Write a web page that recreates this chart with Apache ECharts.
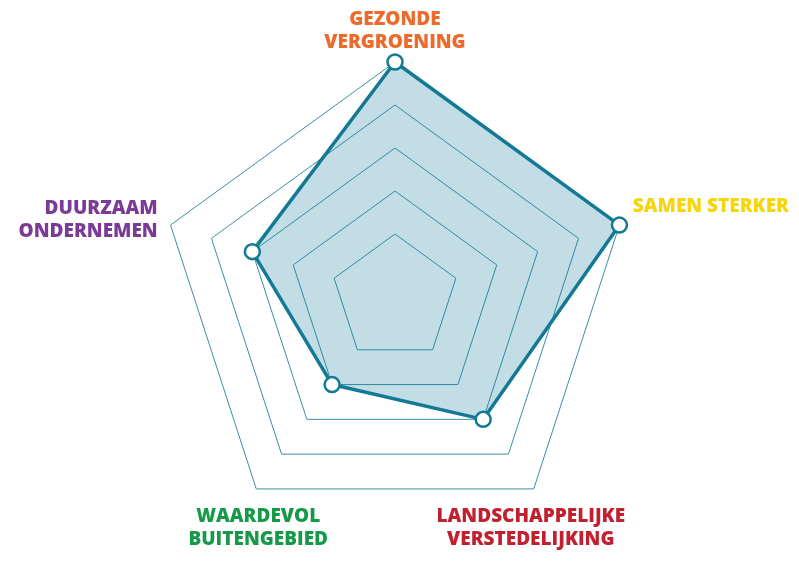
<!DOCTYPE html>
<html>
<head>
<meta charset="utf-8">
<script src="https://cdn.jsdelivr.net/npm/echarts@6/dist/echarts.min.js"></script>
<style>
html,body{margin:0;padding:0;background:#fff;}
#abc{width:799px;height:564px;}
</style>
</head>
<body>
<div id="abc"></div>
<script>
var names = ['GEZONDE\nVERGROENING', 'DUURZAAM\nONDERNEMEN', 'WAARDEVOL\nBUITENGEBIED', 'LANDSCHAPPELIJKE\nVERSTEDELIJKING', 'SAMEN STERKER'];
var nameKeys = ['gz', 'dz', 'wd', 'ls', 'ss'];
var nameColors = ['#EE6A2B', '#7B3A96', '#17994A', '#C1202F', '#F5D60E'];
var scores = [5, 3, 2, 3, 5];
var scaleMin = 1;
var scaleMax = 5;

var indicator = [];
for(var i = 0 ; i < names.length ; i++){
	indicator.push({name: names[i], min: scaleMin, max: scaleMax});
}

// label nudges (padding: top, right, bottom, left)
var rich = {
	gz : { padding : [0, 0, 38, 0], align : 'center' },
	ss : { padding : [0, 0, 30, 160], align : 'center' },
	dz : { padding : [0, 142, 2, 0], align : 'right' },
	wd : { padding : [59, 0, 0, 18], align : 'center' },
	ls : { padding : [59, 20, 0, 0], align : 'center' }
};
for(var i = 0 ; i < nameKeys.length ; i++){
	var r = rich[nameKeys[i]];
	r.color = nameColors[i];
	r.fontFamily = 'Open Sans';
	r.fontWeight = 800;
	r.fontSize = 19;
	r.lineHeight = 23;
}

var myChart = echarts.init(document.getElementById('abc'));
var option = {
	animation : false,
	radar : {
		center : [395, 298],
		radius : [64, 236],
		startAngle : 90,
		splitNumber : 4,
		shape : 'polygon',
		indicator : indicator,
		nameGap : 12,
		axisName : {
			align : 'center',
			verticalAlign : 'middle',
			fontFamily : 'Open Sans',
			fontWeight : 800,
			fontSize : 19,
			lineHeight : 23,
			rich : rich,
			formatter : function(value){
				var k = nameKeys[names.indexOf(value)];
				return value.split('\n').map(function(s){
					return '{' + k + '|' + s + '}';
				}).join('\n');
			}
		},
		axisLine : { show : false },
		axisTick : { show : false },
		splitArea : { show : false },
		splitLine : {
			lineStyle : { color : '#3B8EA5', width : 1 }
		}
	},
	series : [ {
		type : 'radar',
		symbol : 'circle',
		symbolSize : 15,
		lineStyle : { color : '#137A94', width : 3.5 },
		itemStyle : { color : '#fff', borderColor : '#137A94', borderWidth : 2.5 },
		areaStyle : { color : 'rgba(15,120,155,0.25)', opacity : 1 },
		data : [ { value : scores } ]
	} ]
};
myChart.setOption(option);
</script>
</body>
</html>
